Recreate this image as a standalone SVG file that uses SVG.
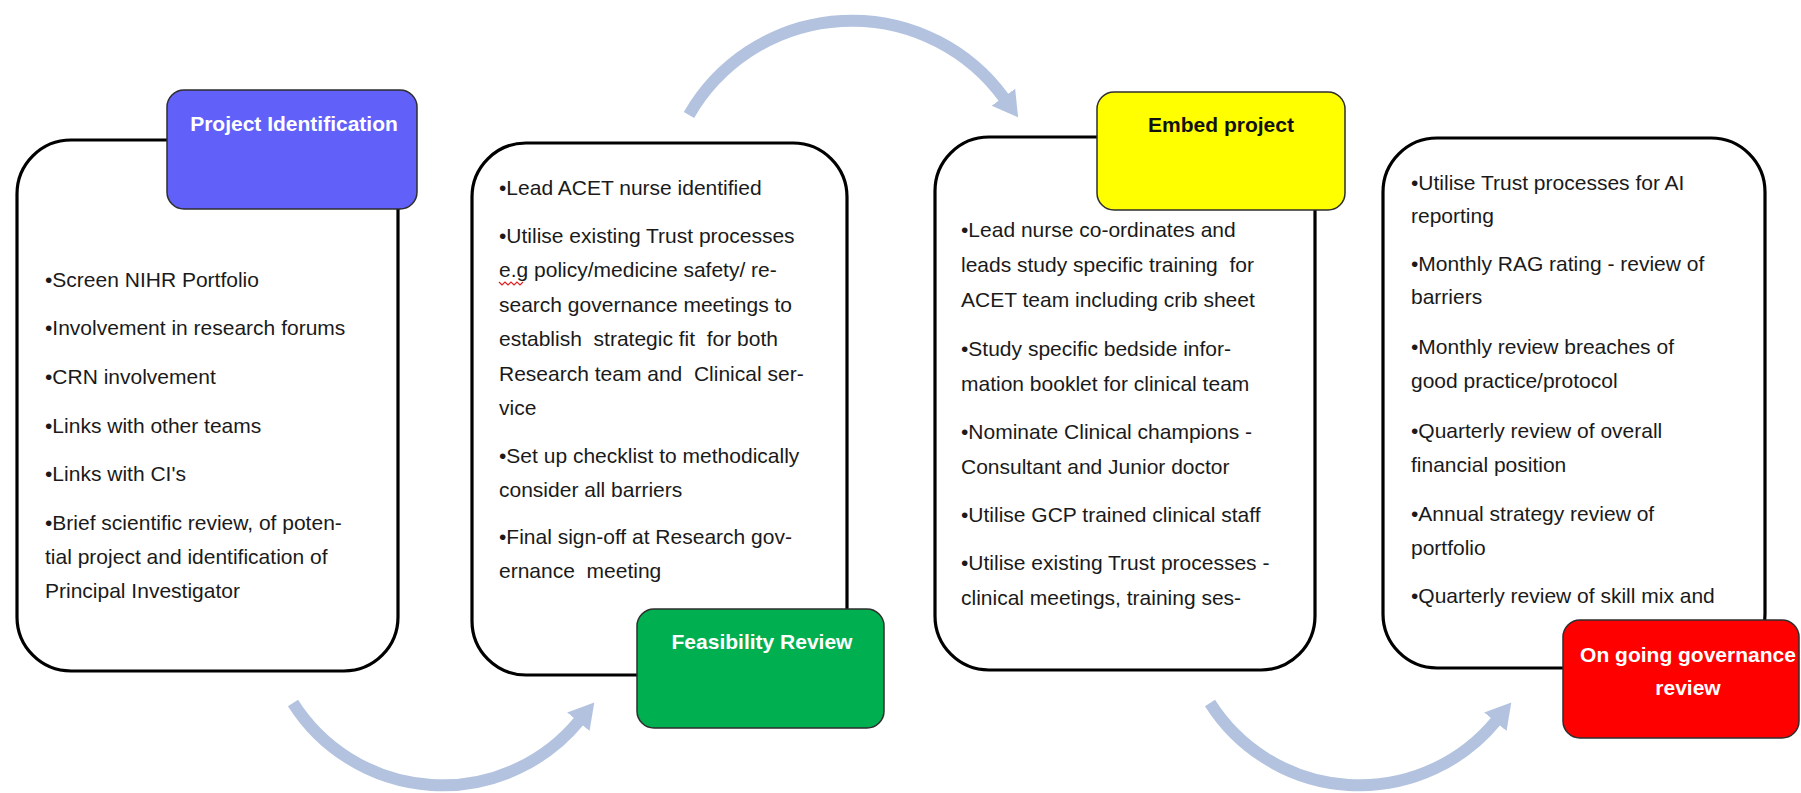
<svg xmlns="http://www.w3.org/2000/svg" width="1801" height="793" viewBox="0 0 1801 793">
<defs>
<style>
.box{fill:#fff;stroke:#000;stroke-width:3.2}
.lbl{stroke:#2e2e2e;stroke-width:1.5}
.t{font-family:"Liberation Sans",Arial,sans-serif;font-size:21px;fill:#1a1a1a;white-space:pre}
.h{font-family:"Liberation Sans",Arial,sans-serif;font-size:21px;font-weight:bold;text-anchor:middle}
.arc{fill:none;stroke:#B3C3DF;stroke-width:12;stroke-linecap:butt}
</style>
<marker id="ah" markerUnits="userSpaceOnUse" viewBox="0 0 26 32" markerWidth="26" markerHeight="32" refX="1" refY="16" orient="auto">
<path d="M0,1.5 L25,16 L0,30.5 Z" fill="#B3C3DF"/>
</marker>
</defs>
<rect width="1801" height="793" fill="#fff"/>

<g id="connectors">
<path class="arc" d="M689,115 A188,188 0 0 1 1004,98" marker-end="url(#ah)"/>
<path class="arc" d="M293,703 A177,177 0 0 0 579,721" marker-end="url(#ah)"/>
<path class="arc" d="M1210,703 A177,177 0 0 0 1496,721" marker-end="url(#ah)"/>
</g>

<g id="node-project-identification">
<rect class="box" x="17" y="140" width="381" height="531" rx="54"/>
<rect class="lbl" x="167" y="90" width="250" height="119" rx="17" fill="#6161FA"/>
<text class="h" x="294" y="131" fill="#fff">Project Identification</text>
<text class="t" x="45" y="287">•Screen NIHR Portfolio</text>
<text class="t" x="45" y="335">•Involvement in research forums</text>
<text class="t" x="45" y="384">•CRN involvement</text>
<text class="t" x="45" y="433">•Links with other teams</text>
<text class="t" x="45" y="481">•Links with CI's</text>
<text class="t" x="45" y="530">•Brief scientific review, of poten-</text>
<text class="t" x="45" y="564">tial project and identification of</text>
<text class="t" x="45" y="598">Principal Investigator</text>
</g>

<g id="node-feasibility-review">
<rect class="box" x="472" y="143" width="375" height="532" rx="54"/>
<rect class="lbl" x="637" y="609" width="247" height="119" rx="17" fill="#00B050"/>
<text class="h" x="762" y="649" fill="#fff">Feasibility Review</text>
<text class="t" x="499" y="195">•Lead ACET nurse identified</text>
<text class="t" x="499" y="243">•Utilise existing Trust processes</text>
<text class="t" x="499" y="277">e.g policy/medicine safety/ re-</text>
<polyline points="499,282 502,285 505,282 508,285 511,282 514,285 517,282 520,285 523,282" fill="none" stroke="#e02020" stroke-width="1.2"/>
<text class="t" x="499" y="312">search governance meetings to</text>
<text class="t" x="499" y="346">establish  strategic fit  for both</text>
<text class="t" x="499" y="381">Research team and  Clinical ser-</text>
<text class="t" x="499" y="415">vice</text>
<text class="t" x="499" y="463">•Set up checklist to methodically</text>
<text class="t" x="499" y="497">consider all barriers</text>
<text class="t" x="499" y="544">•Final sign-off at Research gov-</text>
<text class="t" x="499" y="578">ernance  meeting</text>
</g>

<g id="node-embed-project">
<rect class="box" x="935" y="137" width="380" height="533" rx="54"/>
<rect class="lbl" x="1097" y="92" width="248" height="118" rx="17" fill="#FFFF00"/>
<text class="h" x="1221" y="132" fill="#111">Embed project</text>
<text class="t" x="961" y="237">•Lead nurse co-ordinates and</text>
<text class="t" x="961" y="272">leads study specific training  for</text>
<text class="t" x="961" y="307">ACET team including crib sheet</text>
<text class="t" x="961" y="356">•Study specific bedside infor-</text>
<text class="t" x="961" y="391">mation booklet for clinical team</text>
<text class="t" x="961" y="439">•Nominate Clinical champions -</text>
<text class="t" x="961" y="474">Consultant and Junior doctor</text>
<text class="t" x="961" y="522">•Utilise GCP trained clinical staff</text>
<text class="t" x="961" y="570">•Utilise existing Trust processes -</text>
<text class="t" x="961" y="605">clinical meetings, training ses-</text>
</g>

<g id="node-ongoing-governance-review">
<rect class="box" x="1383" y="138" width="382" height="530" rx="54"/>
<rect class="lbl" x="1563" y="620" width="236" height="118" rx="17" fill="#FF0000"/>
<text class="h" x="1688" y="662" fill="#fff">On going governance</text>
<text class="h" x="1688" y="695" fill="#fff">review</text>
<text class="t" x="1411" y="190">•Utilise Trust processes for AI</text>
<text class="t" x="1411" y="223">reporting</text>
<text class="t" x="1411" y="271">•Monthly RAG rating - review of</text>
<text class="t" x="1411" y="304">barriers</text>
<text class="t" x="1411" y="354">•Monthly review breaches of</text>
<text class="t" x="1411" y="388">good practice/protocol</text>
<text class="t" x="1411" y="438">•Quarterly review of overall</text>
<text class="t" x="1411" y="472">financial position</text>
<text class="t" x="1411" y="521">•Annual strategy review of</text>
<text class="t" x="1411" y="555">portfolio</text>
<text class="t" x="1411" y="603">•Quarterly review of skill mix and</text>
</g>
</svg>
